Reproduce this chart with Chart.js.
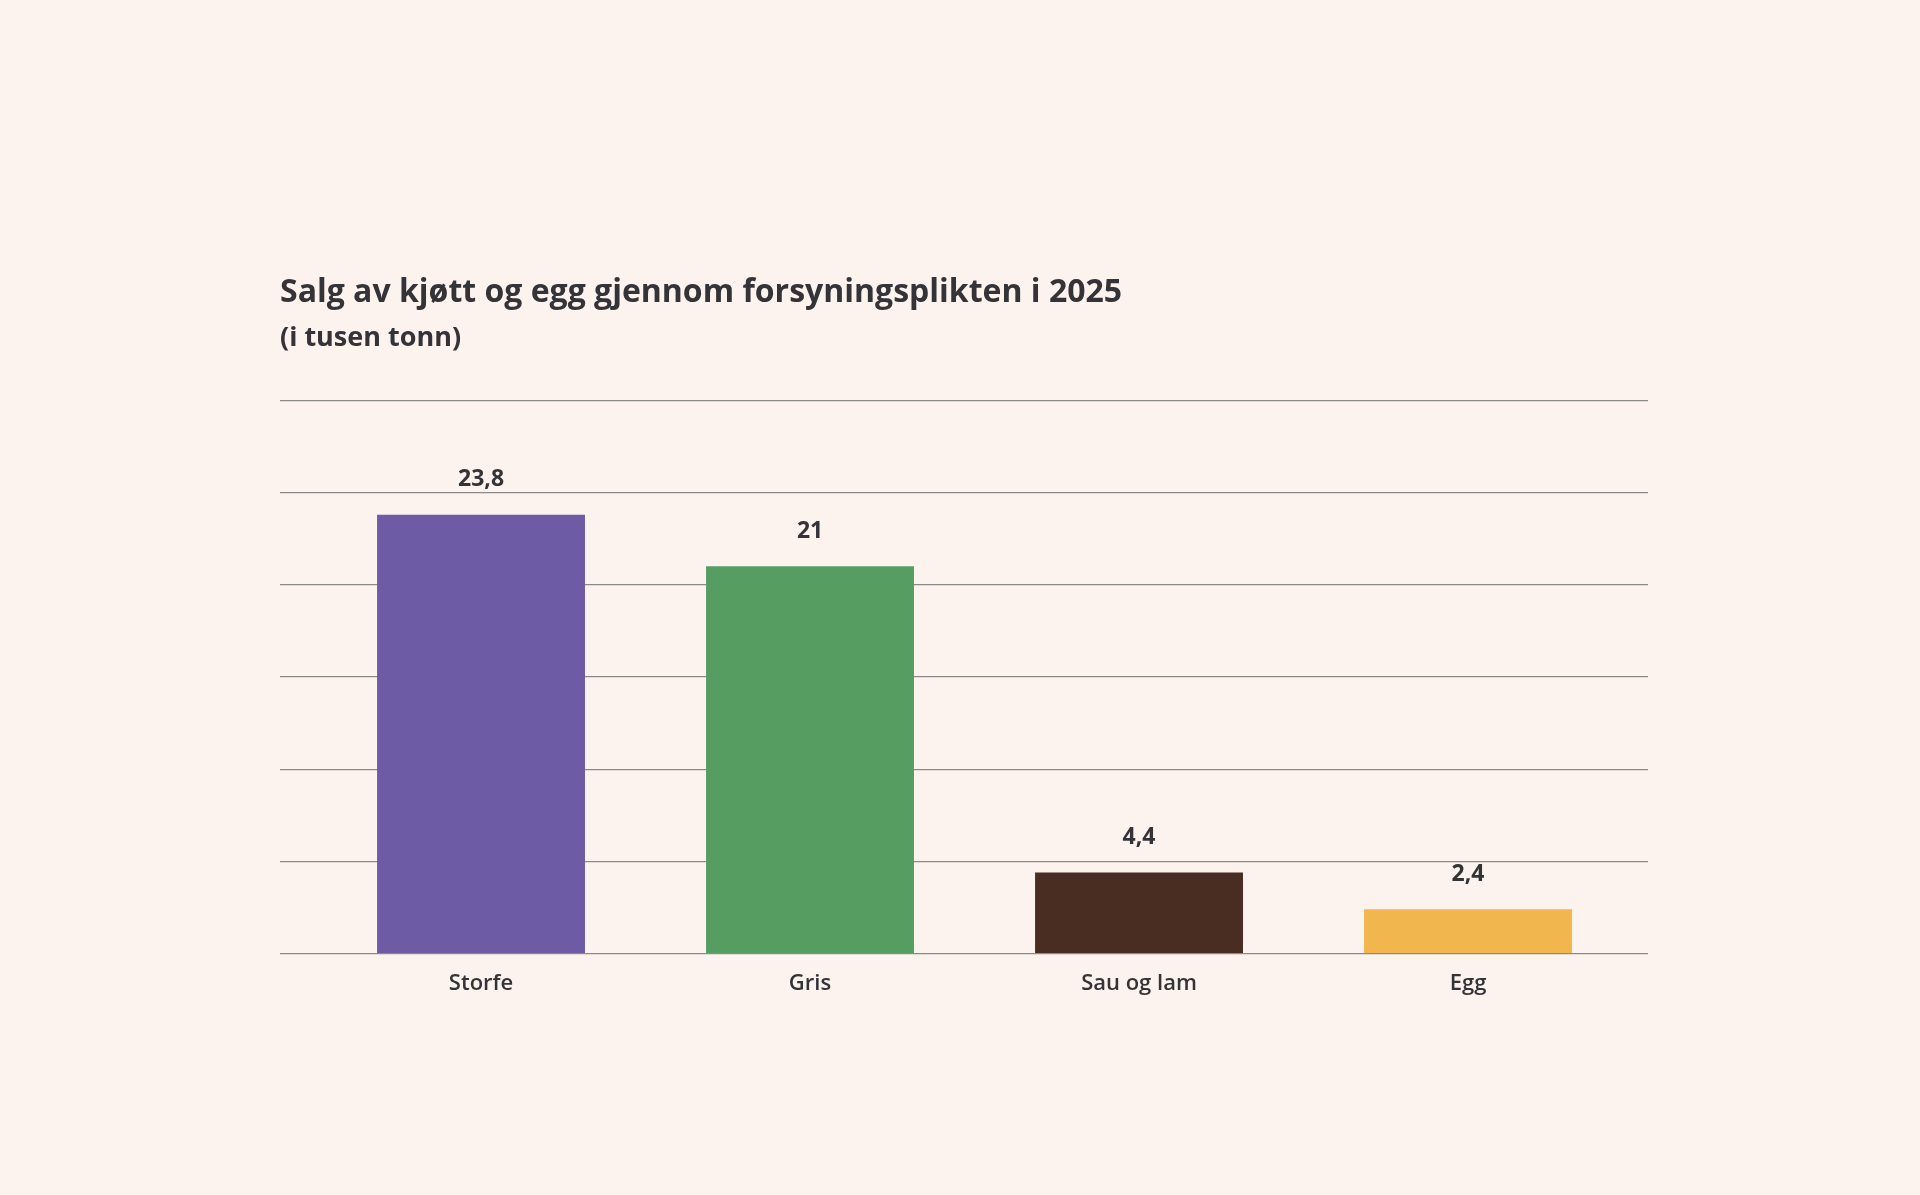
<!DOCTYPE html>
<html lang="no">
<head>
<meta charset="utf-8">
<title>Salg av kjøtt og egg gjennom forsyningsplikten i 2025</title>
<script src="https://cdn.jsdelivr.net/npm/chart.js@4.4.1/dist/chart.umd.min.js"></script>
<style>
    html, body { margin: 0; padding: 0; background: #fcf3ee; }
    #grafico_wrap { width: 1920px; height: 1195px; }
</style>
</head>
<body>
<div id="grafico_wrap"><canvas id="grafico_canva"></canvas></div>
<script>
const kategorier = ['Storfe', 'Gris', 'Sau og lam', 'Egg'];
const salg = [23.8, 21, 4.4, 2.4];
const farger = ['#6d5ba6', '#569d61', '#4a2d22', '#f2b64f'];

const tekstFarge = '#333338';
const fonte = "'Open Sans', 'Noto Sans', sans-serif";

// tall over hver stolpe, med komma som desimaltegn
const verdiEtiketter = {
    id: 'verdiEtiketter',
    afterDatasetsDraw(chart) {
        const ctx = chart.ctx;
        const meta = chart.getDatasetMeta(0);
        ctx.save();
        ctx.fillStyle = tekstFarge;
        ctx.font = "bold 23px " + fonte;
        ctx.textAlign = 'center';
        ctx.textBaseline = 'middle';
        meta.data.forEach(function (bar, i) {
            const tekst = String(salg[i]).replace('.', ',');
            ctx.fillText(tekst, bar.x, bar.y - 35);
        });
        ctx.restore();
    }
};

const grafico = document.getElementById('grafico_canva');

new Chart(grafico, {
    type: 'bar',
    data: {
        datasets: [{
            label: 'Salg (tusen tonn)',
            data: salg.map(function (v, i) { return { x: i, y: v }; }),
            backgroundColor: farger,
            borderWidth: 0,
            barPercentage: 0.632,
            categoryPercentage: 1
        }]
    },
    options: {
        responsive: true,
        maintainAspectRatio: false,
        animation: false,
        layout: {
            padding: { left: 280, right: 272, top: 273.5, bottom: 181 }
        },
        plugins: {
            legend: { display: false },
            tooltip: { enabled: false },
            title: {
                display: true,
                text: 'Salg av kjøtt og egg gjennom forsyningsplikten i 2025',
                align: 'start',
                color: tekstFarge,
                font: { family: fonte, size: 32, weight: 'bold' },
                padding: { top: 0, bottom: 10 }
            },
            subtitle: {
                display: true,
                text: '(i tusen tonn)',
                align: 'start',
                color: tekstFarge,
                font: { family: fonte, size: 27, weight: 'bold' },
                padding: { top: 0, bottom: 46 }
            }
        },
        scales: {
            x: {
                type: 'linear',
                min: -0.611,
                max: 3.547,
                offset: false,
                grid: { display: false, drawTicks: false, offset: false },
                border: { display: false },
                afterBuildTicks: function (akse) {
                    akse.ticks = kategorier.map(function (k, i) { return { value: i }; });
                },
                ticks: {
                    color: tekstFarge,
                    font: { family: fonte, size: 22, weight: '600' },
                    padding: 17,
                    maxRotation: 0,
                    autoSkip: false,
                    callback: function (value) { return kategorier[value]; }
                }
            },
            y: {
                min: 0,
                max: 30,
                ticks: { display: false, stepSize: 5 },
                border: { display: false },
                grid: { color: '#8c8a89', lineWidth: 1.3, drawTicks: false }
            }
        }
    },
    plugins: [verdiEtiketter]
});
</script>
</body>
</html>
